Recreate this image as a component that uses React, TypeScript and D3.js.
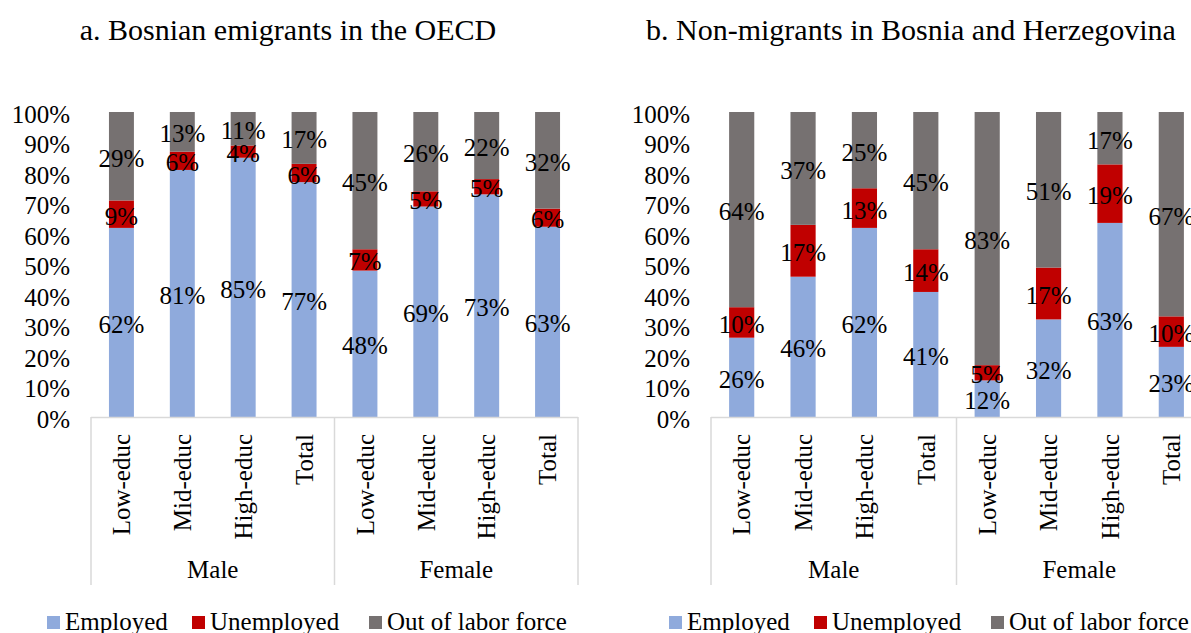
import * as d3 from "d3";

const categories = ["Low-educ", "Mid-educ", "High-educ", "Total", "Low-educ", "Mid-educ", "High-educ", "Total"];
const groups = ["Male", "Female"];
const seriesNames = ["Employed", "Unemployed", "Out of labor force"];
const seriesColors = ["#8FAADC", "#C00000", "#767171"];

// panel a: Bosnian emigrants in the OECD
const emigEmployed = [62, 81, 85, 77, 48, 69, 73, 63];
const emigUnemployed = [9, 6, 4, 6, 7, 5, 5, 6];
const emigOut = [29, 13, 11, 17, 45, 26, 22, 32];

// panel b: non-migrants in Bosnia and Herzegovina
const nonEmployed = [26, 46, 62, 41, 12, 32, 63, 23];
const nonUnemployed = [10, 17, 13, 14, 5, 17, 19, 10];
const nonOut = [64, 37, 25, 45, 83, 51, 17, 67];

const yTicks = [0, 0.1, 0.2, 0.3, 0.4, 0.5, 0.6, 0.7, 0.8, 0.9, 1];

const FONT = "'Liberation Serif', 'Times New Roman', serif";
const keys = ["employed", "unemployed", "out"];

function Panel({ title, employed, unemployed, out, x0, width, titleX, legendX }: any) {
  const rows = categories.map((c, i) => ({ i, employed: employed[i], unemployed: unemployed[i], out: out[i] }));
  const stacked = d3.stack<any>().keys(keys).offset(d3.stackOffsetExpand)(rows);

  const x = d3.scaleBand<number>()
    .domain(d3.range(categories.length))
    .range([x0, x0 + width])
    .paddingInner(0.59)
    .paddingOuter(0.295);
  const y = d3.scaleLinear().domain([0, 1]).range([417, 112]);
  const step = x.step();
  const fmt = d3.format(".0%");
  const axisLeft = x0 - 21;
  const sepBottom = 585;

  return (
    <g>
      <text x={titleX} y={40} textAnchor="middle" fontSize={30} fill="#000">{title}</text>

      {yTicks.map((t) => (
        <text key={t} x={axisLeft} y={y(t)} dy="0.42em" textAnchor="end" fontSize={25} fill="#000">
          {fmt(t)}
        </text>
      ))}

      {stacked.map((layer, k) => (
        <g key={layer.key} fill={seriesColors[k]}>
          {layer.map((d: any, i: number) => (
            <rect key={i} x={x(i)} y={y(d[1])} width={x.bandwidth()} height={y(d[0]) - y(d[1])} />
          ))}
        </g>
      ))}

      {stacked.map((layer) => (
        <g key={"lab" + layer.key}>
          {layer.map((d: any, i: number) => (
            <text key={i} x={(x(i) as number) + x.bandwidth() / 2} y={y((d[0] + d[1]) / 2)} dy="0.42em"
              textAnchor="middle" fontSize={25} fill="#000">
              {d.data[layer.key]}%
            </text>
          ))}
        </g>
      ))}

      <line x1={x0} x2={x0 + step * categories.length} y1={417.5} y2={417.5} stroke="#D9D9D9" strokeWidth={1.5} />
      {[0, 4, 8].map((k) => (
        <line key={k} x1={x0 + step * k} x2={x0 + step * k} y1={417} y2={sepBottom} stroke="#D9D9D9" strokeWidth={1.5} />
      ))}

      {categories.map((c, i) => (
        <text key={i} transform={`translate(${(x(i) as number) + x.bandwidth() / 2},434) rotate(-90)`}
          dy="0.35em" textAnchor="end" fontSize={25} fill="#000">
          {c}
        </text>
      ))}

      {groups.map((g, k) => (
        <text key={g} x={x0 + step * (k * 4 + 2)} y={578} textAnchor="middle" fontSize={25} fill="#000">{g}</text>
      ))}

      {seriesNames.map((s, k) => {
        const lx = legendX + [0, 145, 322][k];
        return (
          <g key={s}>
            <rect x={lx} y={616} width={13} height={13} fill={seriesColors[k]} />
            <text x={lx + 18} y={630} fontSize={25} fill="#000">{s}</text>
          </g>
        );
      })}
    </g>
  );
}

export default function App() {
  return (
    <svg width={1191} height={633} style={{ position: "absolute", left: 0, top: 0, background: "#fff" }}
      fontFamily={FONT}>
      <rect width={1191} height={633} fill="#fff" />
      <Panel title="a. Bosnian emigrants in the OECD" employed={emigEmployed} unemployed={emigUnemployed}
        out={emigOut} x0={91} width={487} titleX={288} legendX={47} />
      <Panel title="b. Non-migrants in Bosnia and Herzegovina" employed={nonEmployed} unemployed={nonUnemployed}
        out={nonOut} x0={711} width={491} titleX={911} legendX={669} />
    </svg>
  );
}
